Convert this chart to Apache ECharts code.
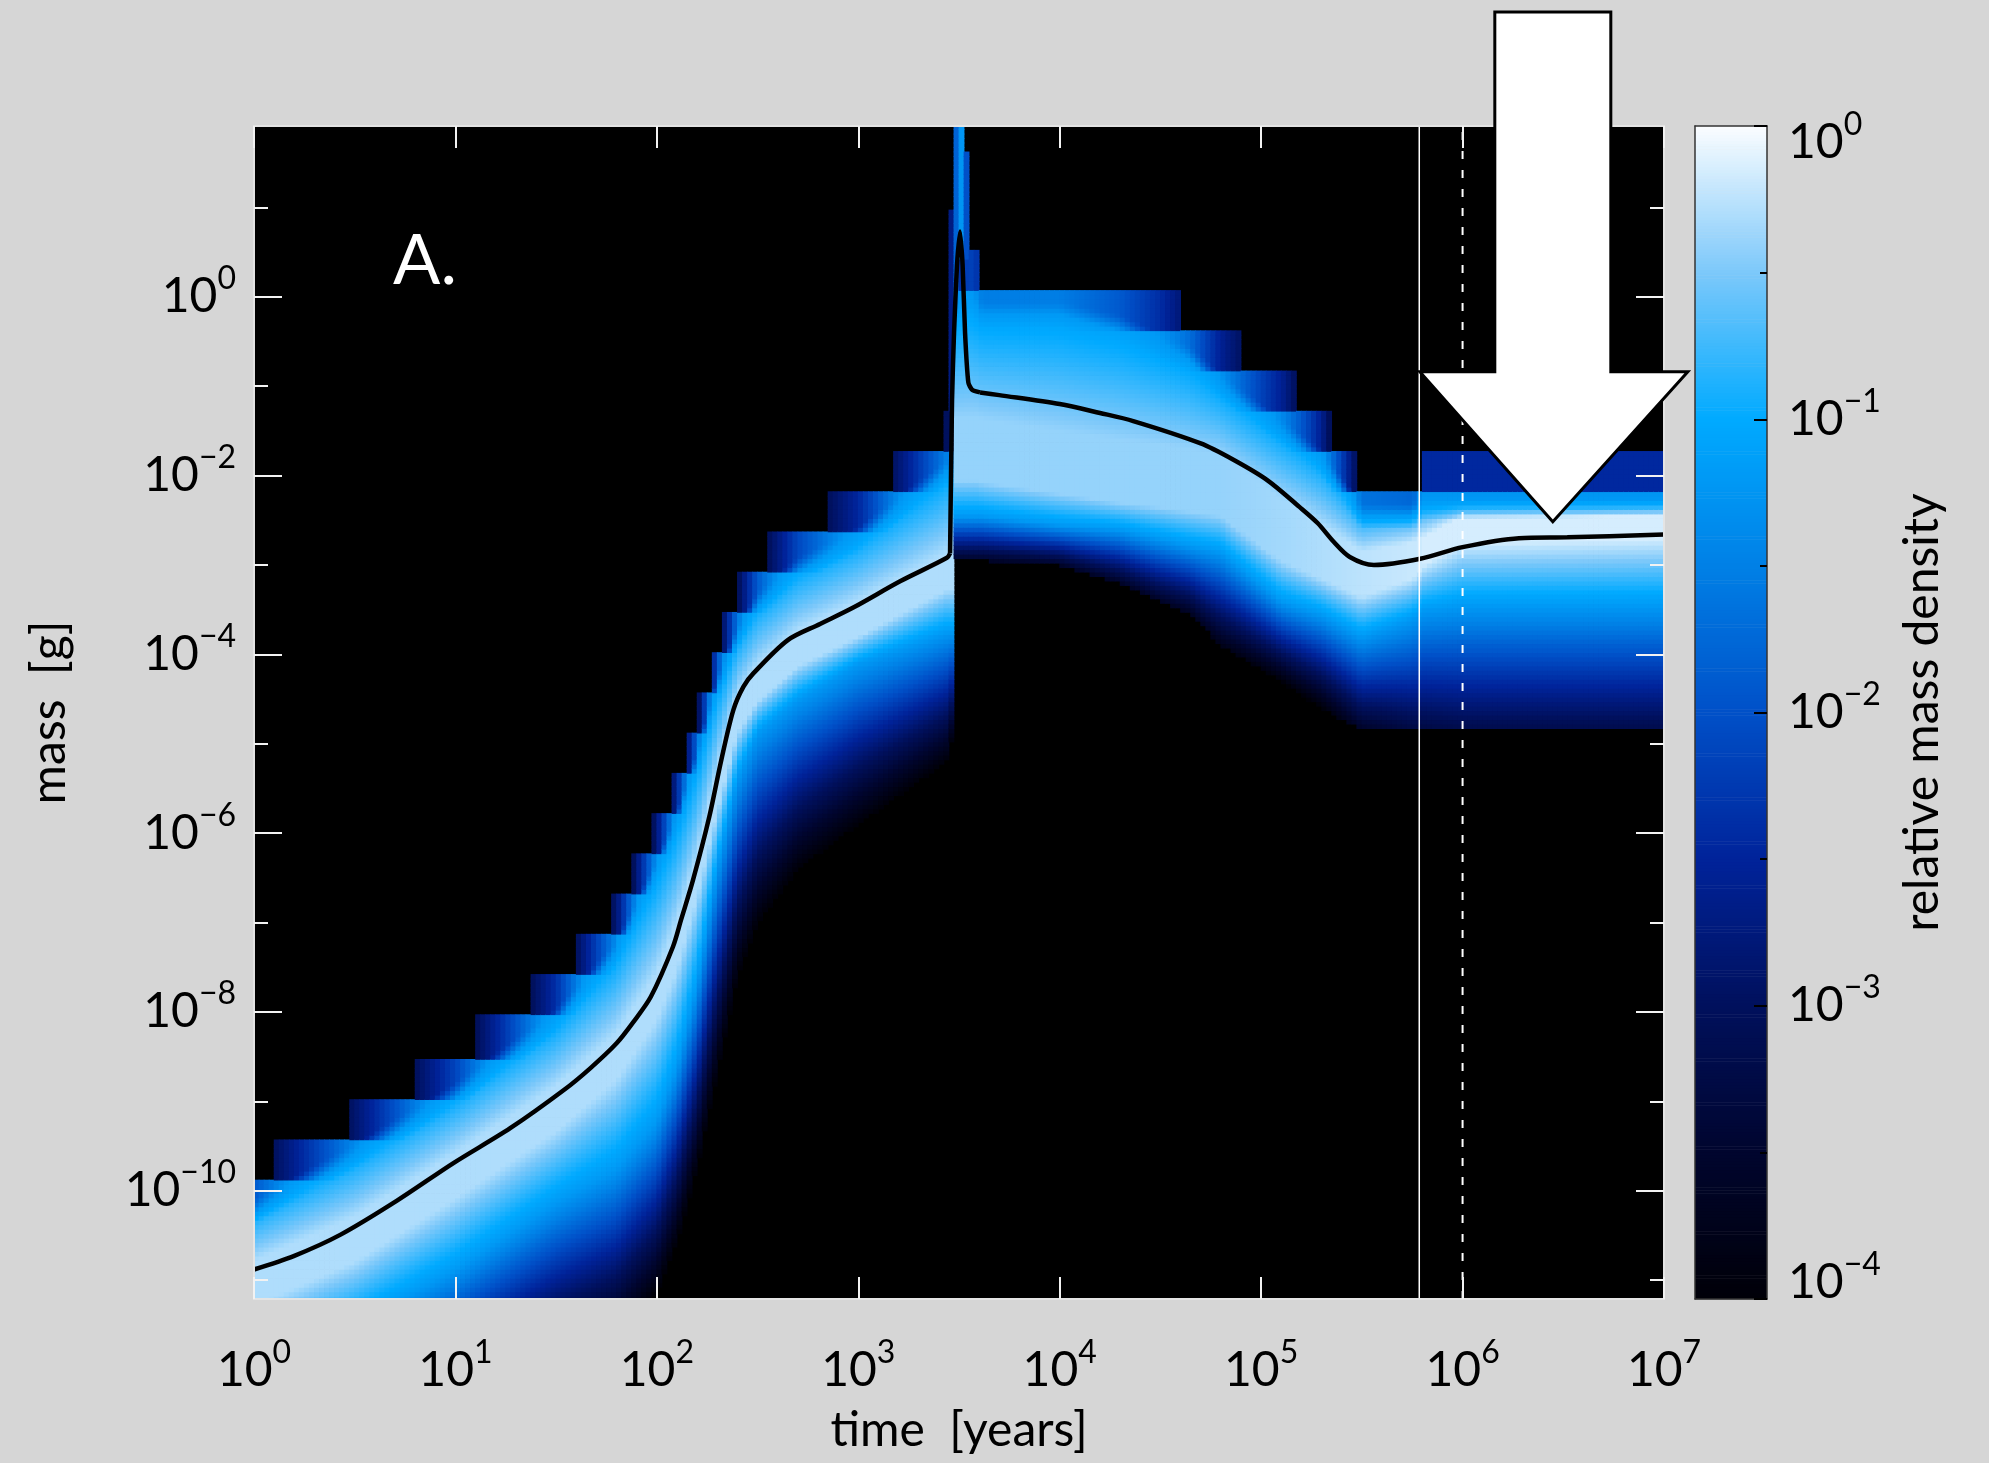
<!DOCTYPE html>
<html>
<head>
<meta charset="utf-8">
<script src="https://cdn.jsdelivr.net/npm/echarts@6/dist/echarts.min.js"></script>
<style>
html, body { margin: 0; padding: 0; background: #d6d6d6; }
#chart { width: 1989px; height: 1463px; }
</style>
</head>
<body>
<div id="chart"></div>
<script>
// all positions in log10: time in years, mass in grams, density relative
// black curve (mean mass)
const lineT = [0, 0.197, 0.43, 0.71, 0.99, 1.272, 1.54, 1.669, 1.80, 1.884, 1.97, 2.08, 2.12, 2.18, 2.26, 2.32, 2.38, 2.43, 2.48, 2.65, 2.81, 2.98, 3.21, 3.44,
  3.4556, 3.4655, 3.4754, 3.49, 3.5052, 3.518, 3.530, 3.5464, 3.565, 3.6045,
  3.70, 4.0, 4.2, 4.365, 4.70, 4.86, 5.03, 5.19, 5.28, 5.36, 5.44, 5.56, 5.79, 6.0, 6.28, 6.52, 7.0];
const lineM = [-10.88, -10.73, -10.49, -10.11, -9.69, -9.30, -8.87, -8.63, -8.35, -8.11, -7.83, -7.27, -6.97, -6.52, -5.82, -5.18, -4.62, -4.36, -4.21, -3.84, -3.66, -3.47, -3.18, -2.92,
  -2.87, -1.15, -0.40, 0.35, 0.73, 0.35, -0.40, -0.96, -1.04, -1.07,
  -1.10, -1.2, -1.30, -1.39, -1.64, -1.82, -2.05, -2.35, -2.53, -2.74, -2.91, -3.0, -2.93, -2.80, -2.70, -2.69, -2.66];
// the curve is drawn in three pieces: rise, spike, decay
const spikeStart = 3.4556, spikeEnd = 3.6045;

// density field, read column by column: mass where the colour reaches
// black below (lo), cyan below (midLo), lightest (peak +- W), cyan above (midHi), top cut (hi)
const keyT     = [0, 0.5, 1.0, 1.5, 1.8, 2.0, 2.1, 2.2, 2.3, 2.4, 2.5, 2.7, 3.0, 3.44, 3.463, 3.464, 3.55, 3.60, 3.615, 4.0, 4.3, 4.5, 4.65, 4.8, 5.1, 5.3, 5.5, 5.75, 5.78, 5.80, 6.0, 7.0];
const keyLo    = [-13.48, -12.99, -12.48, -11.93, -11.65, -11.13, -10.57, -9.75, -8.69, -7.6, -7.0, -6.4, -5.9, -5.2, -5.0, -2.95, -2.95, -2.95, -2.95, -3.0, -3.2, -3.4, -3.55, -3.9, -4.3, -4.6, -4.85, -4.85, -4.85, -4.85, -4.85, -4.85];
const keyMidLo = [-11.98, -11.49, -10.88, -10.13, -9.75, -9.23, -8.62, -7.7, -6.39, -5.39, -4.88, -4.5, -4.1, -3.75, -3.75, -2.45, -2.45, -2.45, -2.45, -2.55, -2.6, -2.7, -2.78, -2.85, -3.4, -3.55, -3.8, -3.6, -3.55, -3.5, -3.45, -3.45];
const keyPeak  = [-11.03, -10.54, -9.83, -9.08, -8.5, -7.83, -7.27, -6.5, -5.54, -4.67, -4.32, -3.93, -3.6, -3.07, -3.07, -1.7, -1.7, -1.7, -1.72, -1.85, -1.95, -2.0, -2.05, -2.1, -2.6, -2.85, -3.1, -2.95, -2.9, -2.85, -2.6, -2.55];
const keyW     = [0.25, 0.25, 0.25, 0.25, 0.25, 0.25, 0.25, 0.2, 0.2, 0.2, 0.2, 0.2, 0.2, 0.2, 0.2, 0.35, 0.35, 0.35, 0.35, 0.35, 0.35, 0.35, 0.35, 0.35, 0.35, 0.3, 0.25, 0.2, 0.2, 0.15, 0.15, 0.15];
const keyMidHi = [-10.08, -9.47, -8.79, -7.96, -7.2, -6.28, -5.75, -5.07, -4.24, -3.67, -3.3, -2.91, -2.57, -1.82, -1.82, -0.05, 0.1, 0.0, -0.05, -0.05, -0.2, -0.4, -0.55, -0.85, -1.35, -1.7, -2.3, -2.3, -2.25, -2.2, -2.2, -2.2];
const keyHi    = [-9.53, -8.92, -8.24, -7.41, -6.65, -5.73, -5.2, -4.52, -3.69, -3.12, -2.75, -2.36, -2.02, -1.27, -1.27, 0.45, 0.7, 0.6, 0.45, 0.45, 0.35, 0.2, 0.0, -0.25, -0.65, -1.15, -1.83, -1.95, -1.95, -1.6, -1.6, -1.6];
const keyLoD   = [-4, -4, -4, -4, -4, -4, -4, -4, -4, -4, -4, -4, -4, -4, -4, -3.6, -3.6, -3.6, -3.6, -3.6, -3.6, -3.6, -3.7, -3.8, -4, -4, -3.6, -3.3, -3.3, -3.3, -3.2, -3.2];
const keyPeakD = [-0.3, -0.3, -0.3, -0.3, -0.3, -0.3, -0.3, -0.3, -0.3, -0.3, -0.3, -0.3, -0.3, -0.3, -0.3, -0.4, -0.4, -0.4, -0.4, -0.4, -0.4, -0.4, -0.4, -0.4, -0.35, -0.3, -0.25, -0.2, -0.2, -0.15, -0.15, -0.15];
const keyHiD   = [-3, -3, -3, -3, -3, -3, -3, -3, -3, -3, -3, -3, -3, -3, -3, -2.5, -2.5, -2.5, -2.5, -2.5, -2.6, -2.7, -2.8, -2.9, -3, -3, -3, -2.9, -2.9, -2.8, -2.8, -2.8];

// narrow spike columns near 3e3 yr
const spikeT   = [3.4625, 3.4875, 3.5125, 3.5375];
const spikeLo  = [-1.3, -1.3, 0.4, 0.4];
const spikeTop = [0.95, 1.95, 1.95, 1.6];
const spikeD   = [-2.7, -1.8, -1.25, -2.0];

// mass bins of the model (upper edge of the stair steps)
const BIN0 = -1.28, BINW = 0.4516;

// colour table of the bar, from 1e-4 to 1e0
const cmapColors = ['#000008', '#00052e', '#00105c', '#00239a', '#0050c8', '#0080e6', '#00aaff', '#7cc8fa', '#fbfdff'];

const xTicks = [0, 1, 2, 3, 4, 5, 6, 7];
const yMajor = [-10, -8, -6, -4, -2, 0];
const yMinor = [-11, -9, -7, -5, -3, -1, 1];
const cbLabelPos = [-3.945, -3, -2, -1, -0.058];
const cbTicks = [-4, -3, -2, -1, 0];

const X_MIN = 0, X_MAX = 7, Y_MIN = -11.21, Y_MAX = 1.91;
const tSolid = 5.785, tDashed = 6.0;
const arrowTip = [6.448, -2.517];

const FONT = 'Lato, "DejaVu Sans", sans-serif';
const CELL_DX = 0.025, CELL_DY = 0.05;

function interp(xs, ys, x) {
  if (x <= xs[0]) return ys[0];
  for (let i = 1; i < xs.length; i++) {
    if (x <= xs[i]) {
      const f = (x - xs[i - 1]) / (xs[i] - xs[i - 1]);
      return ys[i - 1] + f * (ys[i] - ys[i - 1]);
    }
  }
  return ys[ys.length - 1];
}

function buildCells() {
  const cells = [];
  const nCol = Math.round((X_MAX - X_MIN) / CELL_DX);
  for (let i = 0; i < nCol; i++) {
    const cx = X_MIN + CELL_DX * (i + 0.5);
    const lo = interp(keyT, keyLo, cx), midLo = interp(keyT, keyMidLo, cx);
    const peak = interp(keyT, keyPeak, cx), w = interp(keyT, keyW, cx), midHi = interp(keyT, keyMidHi, cx);
    const hi = interp(keyT, keyHi, cx);
    const loD = interp(keyT, keyLoD, cx), pD = interp(keyT, keyPeakD, cx), hiD = interp(keyT, keyHiD, cx);
    const ax = [lo, midLo, peak - w, peak + w, midHi, hi], ad = [loD, -1.2, pD, pD, -1.2, hiD];
    const si = spikeT.findIndex(s => Math.abs(s - cx) < 1e-6);
    for (let j = 0; j < 264; j++) {
      const m = -11.28 + CELL_DY * (j + 0.5);
      let t = 0;
      if (m > midHi - 0.3) t = Math.min(1, (m - (midHi - 0.3)) / 0.3);
      const top = BIN0 + BINW * Math.ceil((m - BIN0) / BINW);
      const me = m + t * (top - m);
      let d = null;
      if (me >= lo && me <= hi) d = interp(ax, ad, me);
      if (si >= 0 && m >= spikeLo[si] && m <= spikeTop[si]) d = Math.max(d === null ? -99 : d, spikeD[si]);
      if (d !== null && d >= -4) cells.push([cx, m, d]);
    }
  }
  return cells;
}

function buildBar() {
  const out = [];
  for (let k = 0; k < 400; k++) {
    const d = -4 + 0.01 * (k + 0.5);
    out.push([0.5, d, d]);
  }
  return out;
}

function curvePart(from, to) {
  const pts = [];
  lineT.forEach((t, i) => { if (t >= from - 1e-9 && t <= to + 1e-9) pts.push([t, lineM[i]]); });
  return pts;
}

function pow10(v) {
  const e = Math.round(v);
  return '{b|10}{s|' + (e < 0 ? '\u2212' + (-e) : e) + '}';
}
const rich = {
  b: { fontFamily: FONT, fontSize: 48, color: '#000', lineHeight: 68, verticalAlign: 'middle' },
  s: { fontFamily: FONT, fontSize: 32, color: '#000', lineHeight: 32, verticalAlign: 'top' }
};

const frame = { show: true, onZero: false, lineStyle: { color: '#e4e4e4', width: 2 } };
const noLine = { show: false, onZero: false };
const whiteTick = (len, vals) => ({ show: true, inside: true, length: len, customValues: vals, lineStyle: { color: '#f2f2f2', width: 2 } });
const darkLine = { show: true, onZero: false, lineStyle: { color: '#333', width: 1.5 } };
const nameStyle = { fontFamily: FONT, fontSize: 48, color: '#000' };
const curveStyle = { color: '#000', width: 4.5 };

const chart = echarts.init(document.getElementById('chart'));

const option = {
  animation: false,
  backgroundColor: '#d6d6d6',
  grid: [
    { left: 254, top: 126, width: 1410, height: 1173, show: true, backgroundColor: '#000', borderWidth: 0, outerBoundsMode: 'none' },
    { left: 1695, top: 126, width: 72, height: 1173, show: false, outerBoundsMode: 'none' }
  ],
  xAxis: [
    { gridIndex: 0, type: 'value', position: 'bottom', min: X_MIN, max: X_MAX, interval: 1, z: 10,
      axisLine: frame, splitLine: { show: false },
      axisTick: whiteTick(22, xTicks),
      axisLabel: { customValues: xTicks, margin: 38, formatter: pow10, rich: rich },
      name: 'time  [years]', nameLocation: 'middle', nameGap: 108, nameTextStyle: nameStyle },
    { gridIndex: 0, type: 'value', position: 'top', min: X_MIN, max: X_MAX, interval: 1, z: 10,
      axisLine: frame, splitLine: { show: false }, axisTick: whiteTick(22, xTicks), axisLabel: { show: false } },
    { gridIndex: 1, type: 'value', position: 'bottom', min: 0, max: 1, z: 10,
      axisLine: darkLine, axisTick: { show: false }, axisLabel: { show: false }, splitLine: { show: false } },
    { gridIndex: 1, type: 'value', position: 'top', min: 0, max: 1, z: 10,
      axisLine: darkLine, axisTick: { show: false }, axisLabel: { show: false }, splitLine: { show: false } }
  ],
  yAxis: [
    { gridIndex: 0, type: 'value', position: 'left', min: Y_MIN, max: Y_MAX, z: 10,
      axisLine: frame, splitLine: { show: false },
      axisTick: whiteTick(28, yMajor),
      axisLabel: { customValues: yMajor, margin: 18, formatter: pow10, rich: rich },
      name: 'mass  [g]', nameLocation: 'middle', nameGap: 180, nameRotate: 90, nameTextStyle: nameStyle },
    { gridIndex: 0, type: 'value', position: 'left', min: Y_MIN, max: Y_MAX, z: 10,
      axisLine: noLine, splitLine: { show: false }, axisTick: whiteTick(14, yMinor), axisLabel: { show: false } },
    { gridIndex: 0, type: 'value', position: 'right', min: Y_MIN, max: Y_MAX, z: 10,
      axisLine: frame, splitLine: { show: false }, axisTick: whiteTick(28, yMajor), axisLabel: { show: false } },
    { gridIndex: 0, type: 'value', position: 'right', min: Y_MIN, max: Y_MAX, z: 10,
      axisLine: noLine, splitLine: { show: false }, axisTick: whiteTick(14, yMinor), axisLabel: { show: false } },
    { gridIndex: 1, type: 'value', position: 'right', min: -4, max: 0, interval: 1, z: 10,
      axisLine: darkLine, splitLine: { show: false },
      axisTick: { show: true, inside: true, length: 13, customValues: cbTicks, lineStyle: { color: '#000', width: 2 } },
      minorTick: { show: true, splitNumber: 2, length: 7, lineStyle: { color: '#000', width: 2 } },
      axisLabel: { customValues: cbLabelPos, margin: 21, formatter: pow10, rich: rich },
      name: 'relative mass density', nameLocation: 'middle', nameGap: 132, nameRotate: 90, nameTextStyle: nameStyle },
    { gridIndex: 1, type: 'value', position: 'left', min: -4, max: 0, z: 10,
      axisLine: darkLine, splitLine: { show: false }, axisTick: { show: false }, axisLabel: { show: false } }
  ],
  visualMap: {
    show: false, type: 'continuous', min: -4, max: 0, dimension: 2, seriesIndex: [0, 1],
    inRange: { color: cmapColors }
  },
  series: [
    { type: 'custom', name: 'density', xAxisIndex: 0, yAxisIndex: 0, clip: true, progressive: 0, z: 1,
      data: buildCells(), encode: { x: 0, y: 1 },
      renderItem: function (params, api) {
        const x = api.value(0), y = api.value(1);
        const a = api.coord([x - CELL_DX / 2, y + CELL_DY / 2]);
        const b = api.coord([x + CELL_DX / 2, y - CELL_DY / 2]);
        return { type: 'rect', shape: { x: a[0] - 0.4, y: a[1] - 0.4, width: b[0] - a[0] + 0.8, height: b[1] - a[1] + 0.8 },
                 style: { fill: api.visual('color') } };
      } },
    { type: 'custom', name: 'bar', xAxisIndex: 2, yAxisIndex: 4, progressive: 0, z: 1,
      data: buildBar(), encode: { x: 0, y: 1 },
      renderItem: function (params, api) {
        const d = api.value(1);
        const a = api.coord([0, d + 0.005]);
        const b = api.coord([1, d - 0.005]);
        return { type: 'rect', shape: { x: a[0], y: a[1] - 0.3, width: b[0] - a[0], height: b[1] - a[1] + 0.6 },
                 style: { fill: api.visual('color') } };
      } },
    { type: 'line', name: 'mean rise', xAxisIndex: 0, yAxisIndex: 0, z: 4, symbol: 'none', clip: true,
      smooth: 0.3, data: curvePart(X_MIN, spikeStart), lineStyle: curveStyle },
    { type: 'line', name: 'mean spike', xAxisIndex: 0, yAxisIndex: 0, z: 4, symbol: 'none', clip: true,
      smooth: 0.2, data: curvePart(spikeStart, spikeEnd), lineStyle: curveStyle },
    { type: 'line', name: 'mean decay', xAxisIndex: 0, yAxisIndex: 0, z: 4, symbol: 'none', clip: true,
      smooth: 0.3, data: curvePart(spikeEnd, X_MAX), lineStyle: curveStyle },
    { type: 'line', xAxisIndex: 0, yAxisIndex: 0, z: 5, symbol: 'none',
      data: [[tSolid, Y_MIN], [tSolid, Y_MAX]], lineStyle: { color: '#ffffff', width: 1.5 } },
    { type: 'line', xAxisIndex: 0, yAxisIndex: 0, z: 5, symbol: 'none',
      data: [[tDashed, Y_MIN], [tDashed, Y_MAX]], lineStyle: { color: '#ffffff', width: 2, type: [8, 11] } }
  ]
};
chart.setOption(option);

// arrow and panel letter
const tip = chart.convertToPixel({ xAxisIndex: 0, yAxisIndex: 0 }, arrowTip);
const baseY = tip[1] - 150;
chart.setOption({
  graphic: [
    { type: 'polygon', z: 100,
      shape: { points: [[tip[0], tip[1]], [tip[0] + 135, baseY], [tip[0] + 58, baseY], [tip[0] + 58, 12],
                        [tip[0] - 58, 12], [tip[0] - 58, baseY], [tip[0] - 133, baseY]] },
      style: { fill: '#ffffff', stroke: '#000', lineWidth: 3 } },
    { type: 'text', z: 100, left: 393, top: 226,
      style: { text: 'A.', fill: '#ffffff', font: '70px ' + FONT } }
  ]
});
</script>
</body>
</html>
